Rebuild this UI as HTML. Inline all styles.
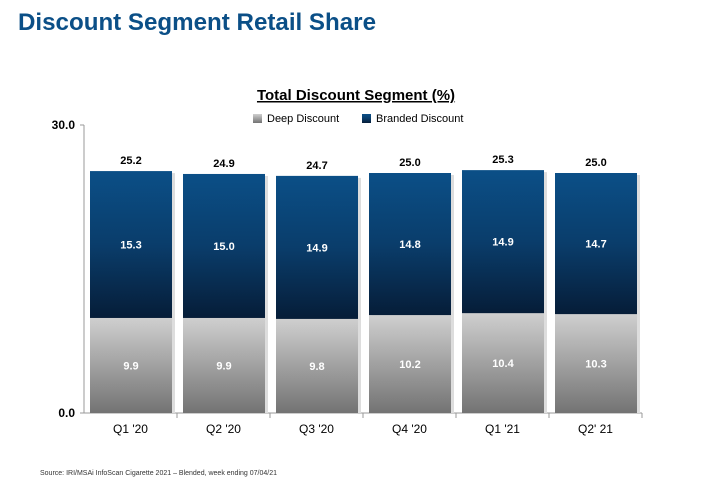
<!DOCTYPE html>
<html><head><meta charset="utf-8"><style>
body{margin:0;background:#fff;font-family:"Liberation Sans",Arial,sans-serif}
</style></head><body>
<svg id="c" width="713" height="488" xmlns="http://www.w3.org/2000/svg">
<defs>
<linearGradient id="gb" x1="0" y1="0" x2="0" y2="1"><stop offset="0" stop-color="#0b4f87"/><stop offset="0.5" stop-color="#0a3d6b"/><stop offset="1" stop-color="#061d38"/></linearGradient>
<linearGradient id="gg" x1="0" y1="0" x2="0" y2="1"><stop offset="0" stop-color="#cfcfcf"/><stop offset="1" stop-color="#737373"/></linearGradient>
</defs>
<text x="18" y="30" font-size="24" font-weight="bold" fill="#0b4f87" textLength="358" lengthAdjust="spacingAndGlyphs">Discount Segment Retail Share</text>
<text x="356" y="100" font-size="15" font-weight="bold" text-anchor="middle" text-decoration="underline" fill="#000">Total Discount Segment (%)</text>
<g>
<rect x="253" y="114" width="9" height="9" fill="url(#gg)"/>
<text x="267" y="122" font-size="11">Deep Discount</text>
<rect x="362" y="114" width="9" height="9" fill="url(#gb)"/>
<text x="376" y="122" font-size="11">Branded Discount</text>
</g>
<g id="plot"></g>
<text x="40" y="475" font-size="7" fill="#333">Source:  IRI/MSAi InfoScan Cigarette 2021 – Blended, week ending 07/04/21</text>
</svg>
<script>
const categories=["Q1 '20","Q2 '20","Q3 '20","Q4 '20","Q1 '21","Q2' 21"];
const deep=[9.9,9.9,9.8,10.2,10.4,10.3];
const branded=[15.3,15.0,14.9,14.8,14.9,14.7];
const totals=[25.2,24.9,24.7,25.0,25.3,25.0];
const yTicks=["0.0","30.0"];
const NS="http://www.w3.org/2000/svg";
const g=document.getElementById('plot');
const x0=84,cw=93,y0=413,yMax=30,ph=288;
const y=v=>y0-v/yMax*ph;
function mk(t,a,txt){const e=document.createElementNS(NS,t);for(const k in a)e.setAttribute(k,a[k]);if(txt!=null)e.textContent=txt;g.appendChild(e);return e;}
let e=mk('line',{x1:x0,y1:y(30),x2:x0,y2:y0,stroke:'#999'});


e=mk('line',{x1:x0,y1:y0,x2:x0+cw*categories.length,y2:y0,stroke:'#999'});


yTicks.forEach(t=>{const v=parseFloat(t);
 e=mk('line',{x1:x0-4,y1:y(v),x2:x0,y2:y(v),stroke:'#999'});
 
 
 e=mk('text',{x:x0-9,y:y(v)+4,'font-size':12,'font-weight':'bold','text-anchor':'end'},t);
 
 
});
categories.forEach((c,i)=>{
 const bx=x0+i*cw+6,bw=82;
 const tx=x0+(i+1)*cw;
 e=mk('line',{x1:tx,y1:y0,x2:tx,y2:y0+5,stroke:'#999'});
 
 
 e=mk('rect',{x:bx+3,y:y(deep[i]+branded[i])+2,width:bw,height:y0-y(deep[i]+branded[i])-2,fill:'#ddd'});
 
 
 e=mk('rect',{x:bx,y:y(deep[i]),width:bw,height:y0-y(deep[i]),fill:'url(#gg)'});
 
 
 e=mk('rect',{x:bx,y:y(deep[i]+branded[i]),width:bw,height:y(deep[i])-y(deep[i]+branded[i]),fill:'url(#gb)'});
 
 
 const cx=bx+bw/2;
 e=mk('text',{x:cx,y:(y(deep[i])+y0)/2+4,'font-size':11,'font-weight':'bold',fill:'#fff','text-anchor':'middle'},deep[i].toFixed(1));
 
 
 e=mk('text',{x:cx,y:(y(deep[i])+y(deep[i]+branded[i]))/2+4,'font-size':11,'font-weight':'bold',fill:'#fff','text-anchor':'middle'},branded[i].toFixed(1));
 
 
 e=mk('text',{x:cx,y:y(totals[i])-7,'font-size':11,'font-weight':'bold','text-anchor':'middle'},totals[i].toFixed(1));
 
 
 e=mk('text',{x:x0+i*cw+cw/2,y:y0+20,'font-size':12,'text-anchor':'middle'},c);
 
 
});
</script>
</body></html>
